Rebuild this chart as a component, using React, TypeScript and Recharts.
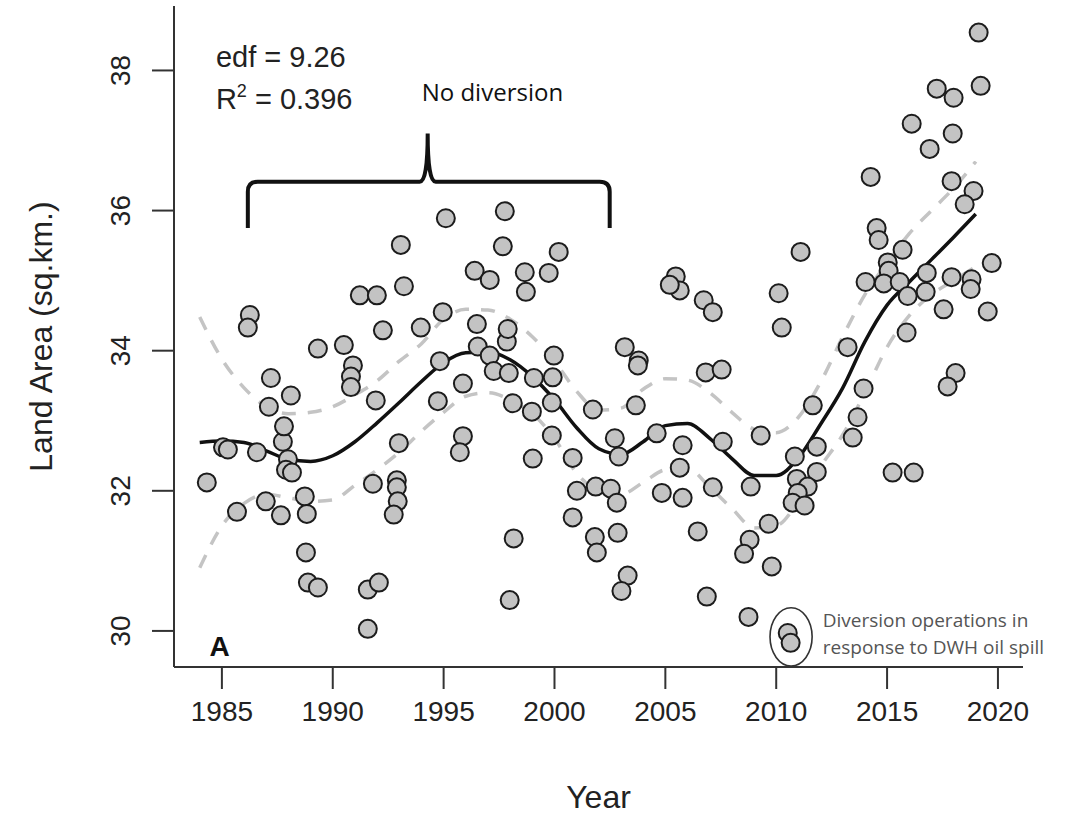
import React from 'react';
import {
  ComposedChart,
  Scatter,
  Line,
  XAxis,
  YAxis,
  ReferenceArea,
  ReferenceDot,
  Label,
} from 'recharts';

// observed land area, one entry per image date
const obsYear = [
  1984.32, 1985.05, 1985.27, 1985.68, 1986.26, 1986.17, 1986.58, 1986.98, 1987.12, 1987.21,
  1987.66, 1987.75, 1987.8, 1987.98, 1987.89, 1988.16, 1988.11, 1988.74, 1988.83, 1988.79,
  1988.88, 1989.33, 1989.33, 1990.5, 1990.91, 1990.82, 1990.82, 1991.22, 1991.99, 1991.94,
  1991.81, 1991.58, 1992.08, 1991.58, 1992.26, 1992.89, 1992.89, 1992.93, 1992.75, 1992.98,
  1993.07, 1993.21, 1993.97, 1994.74, 1994.83, 1994.96, 1995.1, 1995.87, 1995.87, 1995.73,
  1996.4, 1997.08, 1997.67, 1997.76, 1998.66, 1998.71, 1999.74, 2000.19, 1996.5, 1996.54,
  1997.08, 1997.26, 1997.85, 1997.89, 1997.94, 1998.12, 1998.98, 1999.07, 1999.92, 1999.97,
  1999.88, 1999.88, 1999.02, 2000.82, 2001.01, 2000.82, 2001.73, 2001.86, 2002.54, 2002.81,
  2002.72, 2002.9, 2003.17, 2003.8, 2003.76, 2003.67, 2004.61, 2004.84, 2005.78, 2005.65,
  2005.78, 2005.47, 2005.65, 2005.2, 2006.73, 2007.14, 2006.82, 2007.54, 2007.59, 2007.14,
  2008.85, 1998.16, 1997.98, 2001.82, 2001.91, 2002.85, 2003.3, 2003.02, 2006.46, 2006.87,
  2008.8, 2008.55, 2008.75, 2019.13, 2017.24, 2018.0, 2019.22, 2016.11, 2017.96, 2016.92,
  2014.26, 2017.91, 2018.9, 2018.5, 2014.53, 2014.62, 2015.7, 2011.1, 2015.03, 2015.07,
  2019.72, 2016.79, 2017.91, 2018.81, 2018.77, 2014.03, 2014.85, 2015.57, 2010.11, 2015.93,
  2016.74, 2010.25, 2017.55, 2019.54, 2015.88, 2013.22, 2018.09, 2017.73, 2013.94, 2011.65,
  2013.67, 2013.45, 2009.3, 2011.83, 2010.84, 2011.83, 2015.25, 2016.2, 2010.93, 2011.42,
  2010.97, 2010.74, 2011.28, 2009.66, 2009.8, 2010.52, 2010.65,
];
const obsArea = [
  32.12, 32.62, 32.59, 31.7, 34.51, 34.33, 32.55, 31.85, 33.2, 33.61,
  31.65, 32.7, 32.92, 32.45, 32.3, 32.26, 33.36, 31.92, 31.67, 31.12,
  30.69, 30.62, 34.03, 34.08, 33.79, 33.63, 33.48, 34.79, 34.79, 33.29,
  32.1, 30.59, 30.69, 30.03, 34.29, 32.15, 32.05, 31.85, 31.66, 32.68,
  35.51, 34.92, 34.33, 33.28, 33.85, 34.55, 35.89, 33.53, 32.78, 32.55,
  35.14, 35.01, 35.49, 35.99, 35.12, 34.84, 35.11, 35.41, 34.38, 34.06,
  33.93, 33.71, 34.13, 34.31, 33.68, 33.25, 33.13, 33.61, 33.62, 33.93,
  33.26, 32.79, 32.46, 32.47, 32.0, 31.62, 33.16, 32.06, 32.03, 31.83,
  32.75, 32.49, 34.05, 33.86, 33.79, 33.22, 32.82, 31.97, 32.65, 32.33,
  31.9, 35.06, 34.86, 34.94, 34.72, 34.55, 33.69, 33.73, 32.7, 32.05,
  32.06, 31.32, 30.44, 31.34, 31.12, 31.4, 30.79, 30.57, 31.42, 30.49,
  31.3, 31.1, 30.2, 38.54, 37.74, 37.61, 37.78, 37.24, 37.1, 36.88,
  36.48, 36.42, 36.28, 36.09, 35.75, 35.58, 35.44, 35.41, 35.26, 35.14,
  35.25, 35.11, 35.05, 35.02, 34.88, 34.98, 34.96, 34.98, 34.82, 34.78,
  34.84, 34.33, 34.59, 34.56, 34.26, 34.05, 33.68, 33.49, 33.46, 33.22,
  33.05, 32.76, 32.79, 32.63, 32.49, 32.27, 32.26, 32.26, 32.17, 32.06,
  31.97, 31.83, 31.79, 31.53, 30.92, 29.97, 29.83,
];

// GAM fit and its confidence band, read once per year
const fitYear = [
  1984, 1985, 1986, 1987, 1988, 1989, 1990, 1991, 1992, 1993, 1994, 1995,
  1996, 1997, 1998, 1999, 2000, 2001, 2002, 2003, 2004, 2005, 2006, 2007,
  2008, 2009, 2010, 2011, 2012, 2013, 2014, 2015, 2016, 2017, 2018, 2019,
];
const fitArea = [
  32.69, 32.71, 32.69, 32.57, 32.45, 32.42, 32.5, 32.7, 32.97, 33.26, 33.56, 33.83,
  33.97, 33.98, 33.87, 33.63, 33.3, 32.9, 32.6, 32.52, 32.7, 32.93, 32.96, 32.75,
  32.46, 32.22, 32.22, 32.47, 32.95, 33.47, 34.13, 34.65, 34.98, 35.3, 35.62, 35.95,
];
const upperArea = [
  34.48, 33.88, 33.47, 33.2, 33.1, 33.12, 33.2, 33.37, 33.57, 33.85, 34.1, 34.45,
  34.59, 34.58, 34.45, 34.2, 33.85, 33.42, 33.15, 33.18, 33.45, 33.6, 33.58, 33.4,
  33.12, 32.88, 32.83, 33.05, 33.55, 34.2, 34.8, 35.25, 35.67, 36.0, 36.32, 36.7,
];
const lowerArea = [
  30.9, 31.5, 31.82, 31.95, 31.9, 31.85, 31.87, 32.08, 32.3, 32.55, 32.85, 33.12,
  33.35, 33.4, 33.3, 33.1, 32.75, 32.25, 32.0, 31.95, 32.12, 32.3, 32.32, 32.05,
  31.75, 31.47, 31.5, 31.85, 32.35, 32.8, 33.4, 34.05, 34.5, 34.8, 35.0, 35.2,
];

const xTicks = [1985, 1990, 1995, 2000, 2005, 2010, 2015, 2020];
const yTicks = [30, 32, 34, 36, 38];

const points = obsYear.map((year, i) => ({ year, area: obsArea[i] }));
const fitRows = fitYear.map((year, i) => ({
  year,
  fit: fitArea[i],
  upper: upperArea[i],
  lower: lowerArea[i],
}));

const AXIS_FONT = '"Liberation Sans", Arial, sans-serif';
const NOTE_FONT = '"Open Sans", "Noto Sans", sans-serif';

const XTick = ({ x, y, payload }: any) => (
  <text x={x} y={y + 30} textAnchor="middle" fontSize={28} fill="#222" fontFamily={AXIS_FONT}>
    {payload.value}
  </text>
);

const YTick = ({ x, y, payload }: any) => (
  <text
    x={x - 20}
    y={y}
    transform={`rotate(-90, ${x - 20}, ${y})`}
    textAnchor="middle"
    fontSize={28}
    fill="#222"
    fontFamily={AXIS_FONT}
  >
    {payload.value}
  </text>
);

const dot = (p: any) => (
  <circle cx={p.cx} cy={p.cy} r={9} fill="#c3c3c3" stroke="#1c1c1c" strokeWidth={2} />
);

// curly brace drawn inside the box given by the ReferenceArea
const brace = (p: any) => {
  const { x, y, width, height } = p;
  const mid = x + width * 0.497;
  const bar = y + height * 0.51;
  const r = 10;
  const d = [
    `M ${x} ${y + height}`,
    `L ${x} ${bar + r}`,
    `Q ${x} ${bar} ${x + r} ${bar}`,
    `L ${mid - 8} ${bar}`,
    `Q ${mid} ${bar} ${mid} ${y}`,
    `Q ${mid} ${bar} ${mid + 8} ${bar}`,
    `L ${x + width - r} ${bar}`,
    `Q ${x + width} ${bar} ${x + width} ${bar + r}`,
    `L ${x + width} ${y + height}`,
  ].join(' ');
  return <path d={d} fill="none" stroke="#111" strokeWidth={4} />;
};

const ellipse = (p: any) => (
  <ellipse
    cx={p.x + p.width / 2}
    cy={p.y + p.height / 2}
    rx={p.width / 2}
    ry={p.height / 2}
    fill="none"
    stroke="#333"
    strokeWidth={1.6}
  />
);

const note =
  (content: React.ReactNode, opts: { anchor?: string; size: number; font: string; color: string; weight?: number }) =>
  (p: any) => (
    <text
      x={p.cx}
      y={p.cy}
      textAnchor={opts.anchor || 'start'}
      fontSize={opts.size}
      fontFamily={opts.font}
      fill={opts.color}
      fontWeight={opts.weight || 400}
    >
      {content}
    </text>
  );

export default function App() {
  return (
    <div style={{ position: 'absolute', left: 0, top: 0, background: '#fff' }}>
      <ComposedChart
        width={1089}
        height={834}
        data={fitRows}
        margin={{ top: 6, right: 66, left: 74, bottom: 17 }}
      >
        <XAxis
          type="number"
          dataKey="year"
          domain={[1982.84, 2021.13]}
          ticks={xTicks}
          allowDataOverflow
          height={150}
          tickSize={22}
          tick={<XTick />}
          axisLine={{ stroke: '#333', strokeWidth: 2 }}
          tickLine={{ stroke: '#333', strokeWidth: 2 }}
        >
          <Label
            content={(props: any) => {
              const vb = props.viewBox;
              return (
                <text
                  x={vb.x + vb.width / 2}
                  y={vb.y + 141}
                  textAnchor="middle"
                  fontSize={32}
                  fill="#222"
                  fontFamily={AXIS_FONT}
                >
                  Year
                </text>
              );
            }}
          />
        </XAxis>
        <YAxis
          type="number"
          domain={[29.485, 38.92]}
          ticks={yTicks}
          allowDataOverflow
          width={100}
          tickSize={22}
          tick={<YTick />}
          axisLine={{ stroke: '#333', strokeWidth: 2 }}
          tickLine={{ stroke: '#333', strokeWidth: 2 }}
        >
          <Label
            content={(props: any) => {
              const vb = props.viewBox;
              const cx = vb.x - 22;
              const cy = vb.y + vb.height / 2;
              return (
                <text
                  x={cx}
                  y={cy}
                  transform={`rotate(-90, ${cx}, ${cy})`}
                  textAnchor="middle"
                  fontSize={32}
                  fill="#222"
                  fontFamily={AXIS_FONT}
                >
                  Land Area (sq.km.)
                </text>
              );
            }}
          />
        </YAxis>

        <Line
          dataKey="upper"
          type="monotone"
          stroke="#c4c4c4"
          strokeWidth={3.5}
          strokeDasharray="14 12"
          dot={false}
          activeDot={false}
          isAnimationActive={false}
        />
        <Line
          dataKey="lower"
          type="monotone"
          stroke="#c4c4c4"
          strokeWidth={3.5}
          strokeDasharray="14 12"
          dot={false}
          activeDot={false}
          isAnimationActive={false}
        />
        <Scatter data={points} dataKey="area" shape={dot} isAnimationActive={false} />
        <Line
          dataKey="fit"
          type="monotone"
          stroke="#111"
          strokeWidth={3.5}
          dot={false}
          activeDot={false}
          isAnimationActive={false}
        />

        <ReferenceArea x1={1986.17} x2={2002.49} y1={35.75} y2={37.1} shape={brace} ifOverflow="visible" />
        <ReferenceArea x1={2009.72} x2={2011.62} y1={29.5} y2={30.33} shape={ellipse} ifOverflow="visible" />

        <ReferenceDot
          x={1984.73}
          y={38.05}
          r={0}
          ifOverflow="visible"
          shape={note('edf = 9.26', { size: 29, font: AXIS_FONT, color: '#222' })}
        />
        <ReferenceDot
          x={1984.73}
          y={37.45}
          r={0}
          ifOverflow="visible"
          shape={note(
            <>
              R<tspan dy={-12} fontSize={18}>2</tspan>
              <tspan dy={12}> = 0.396</tspan>
            </>,
            { size: 29, font: AXIS_FONT, color: '#222' },
          )}
        />
        <ReferenceDot
          x={1997.2}
          y={37.57}
          r={0}
          ifOverflow="visible"
          shape={note('No diversion', { anchor: 'middle', size: 24, font: NOTE_FONT, color: '#111' })}
        />
        <ReferenceDot
          x={1984.44}
          y={29.64}
          r={0}
          ifOverflow="visible"
          shape={note('A', { size: 28, font: AXIS_FONT, color: '#111', weight: 700 })}
        />
        <ReferenceDot
          x={2012.1}
          y={30.06}
          r={0}
          ifOverflow="visible"
          shape={note('Diversion operations in', { size: 19, font: NOTE_FONT, color: '#555' })}
        />
        <ReferenceDot
          x={2012.1}
          y={29.67}
          r={0}
          ifOverflow="visible"
          shape={note('response to DWH oil spill', { size: 19, font: NOTE_FONT, color: '#555' })}
        />
      </ComposedChart>
    </div>
  );
}
